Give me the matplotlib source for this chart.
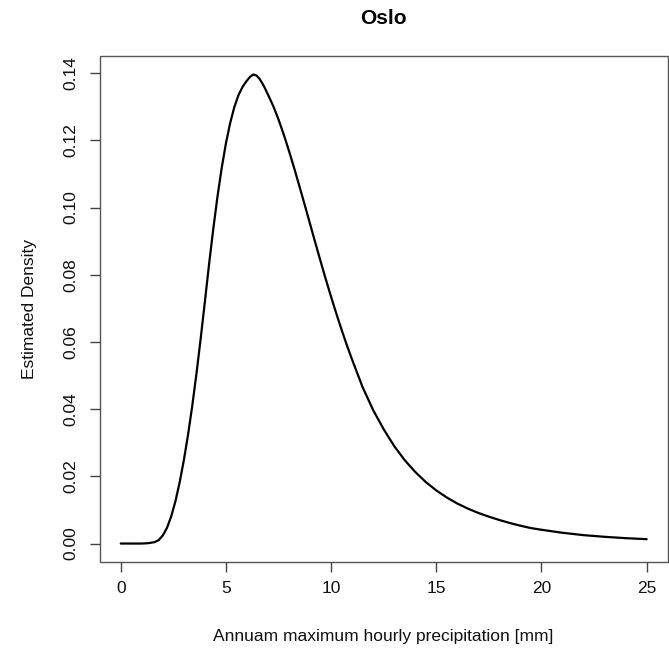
import matplotlib
matplotlib.use("Agg")
import matplotlib.pyplot as plt
from matplotlib.patches import Rectangle

plt.rcParams['font.family'] = ['Liberation Sans', 'DejaVu Sans']

# Values
precip = [0.0, 0.5, 1.0, 1.3, 1.6, 1.8, 2.0, 2.2, 2.4, 2.6, 2.8, 3.0, 3.2,
          3.4, 3.6, 3.8, 4.0, 4.2, 4.4, 4.6, 4.8, 5.0, 5.2, 5.4, 5.6, 5.8,
          6.0, 6.15, 6.3, 6.45, 6.6, 6.8, 7.0, 7.25, 7.5, 7.75, 8.0, 8.25,
          8.5, 8.75, 9.0, 9.25, 9.5, 9.75, 10.0, 10.25, 10.5, 10.75, 11.0,
          11.5, 12.0, 12.5, 13.0, 13.5, 14.0, 14.5, 15.0, 15.5, 16.0, 16.5,
          17.0, 17.5, 18.0, 18.5, 19.0, 19.5, 20.0, 21.0, 22.0, 23.0, 24.0,
          25.0]
density = [0.0000, 0.0000, 0.0000, 0.0001, 0.0004, 0.0010, 0.0024, 0.0047,
           0.0081, 0.0126, 0.0182, 0.0248, 0.0324, 0.0410, 0.0506, 0.0610,
           0.0720, 0.0832, 0.0937, 0.1033, 0.1118, 0.1191, 0.1251, 0.1299,
           0.1335, 0.1360, 0.1378, 0.1389, 0.1396, 0.1393, 0.1383, 0.1362,
           0.1336, 0.1302, 0.1262, 0.1217, 0.1168, 0.1116, 0.1062, 0.1007,
           0.0951, 0.0895, 0.0840, 0.0786, 0.0734, 0.0684, 0.0636, 0.0590,
           0.0547, 0.0465, 0.0397, 0.0340, 0.0290, 0.0248, 0.0213, 0.0183,
           0.0158, 0.0137, 0.0119, 0.0104, 0.0091, 0.0080, 0.0070, 0.0061,
           0.0053, 0.0046, 0.0041, 0.0032, 0.0025, 0.0020, 0.0016, 0.0013]

xticks = [0, 5, 10, 15, 20, 25]
yticks = [0.00, 0.02, 0.04, 0.06, 0.08, 0.10, 0.12, 0.14]
ytick_labels = ["0.00", "0.02", "0.04", "0.06", "0.08", "0.10", "0.12", "0.14"]

W, H = 669, 650
fig = plt.figure(figsize=(W / 100, H / 100), dpi=100)
ax = fig.add_axes([99.7 / W, 1 - 562.3 / H, (667.7 - 99.7) / W, (562.3 - 55.7) / H])

ax.plot(precip, density, color='black', lw=1.6, solid_capstyle='round',
        solid_joinstyle='round')

xr = max(precip) - min(precip)
ax.set_xlim(min(precip) - 0.04 * xr, max(precip) + 0.04 * xr)
yr = max(density) - min(density)
ax.set_ylim(min(density) - 0.04 * yr, max(density) + 0.04 * yr)

ax.set_xticks(xticks)
ax.set_xticklabels([str(t) for t in xticks])
ax.set_yticks(yticks)
ax.set_yticklabels(ytick_labels)
for lab in ax.get_yticklabels():
    lab.set_rotation(90)
    lab.set_va('center')

ax.tick_params(axis='both', length=7.2, width=1.0, color='#444444',
               labelsize=12.5, labelcolor='#111111')
ax.tick_params(axis='x', pad=6)
ax.tick_params(axis='y', pad=8)

for side in ['bottom', 'left', 'top', 'right']:
    ax.spines[side].set_visible(False)
ax.add_patch(Rectangle((0, 0), 1, 1, transform=ax.transAxes, fill=False,
                       edgecolor='#555555', lw=1.0, clip_on=False))

fig.text(383.5 / W, 1 - 19 / H, "Oslo", ha='center', va='center',
         fontsize=15, fontweight='bold', color='black')
fig.text(383.5 / W, 1 - 636.5 / H, "Annuam maximum hourly precipitation [mm]",
         ha='center', va='center', fontsize=12.5, color='#111111')
fig.text(30 / W, 1 - 309 / H, "Estimated Density", ha='center', va='center',
         rotation=90, fontsize=12.5, color='#111111')

fig.savefig("out.png", dpi=100)
